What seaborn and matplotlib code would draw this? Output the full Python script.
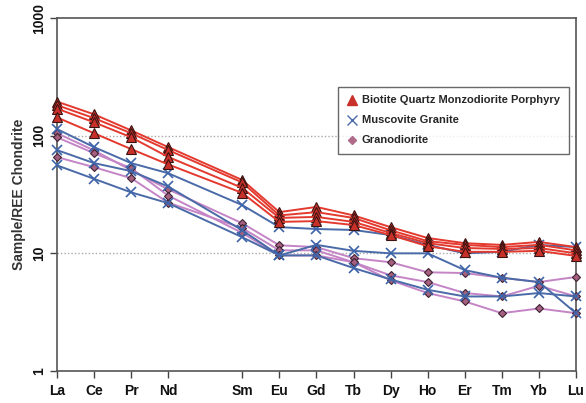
import matplotlib
matplotlib.use("Agg")
import matplotlib.pyplot as plt
from matplotlib.lines import Line2D
import seaborn as sns
import pandas as pd

# ---- data ----
ree_all = ["La", "Ce", "Pr", "Nd", "Pm", "Sm", "Eu", "Gd", "Tb", "Dy", "Ho", "Er", "Tm", "Yb", "Lu"]
elements = ["La", "Ce", "Pr", "Nd", "Sm", "Eu", "Gd", "Tb", "Dy", "Ho", "Er", "Tm", "Yb", "Lu"]

bqmp_1 = [195, 152, 111, 80, 42, 22.4, 24.8, 21.0, 16.7, 13.5, 12.2, 11.8, 12.5, 11.3]
bqmp_2 = [182, 141, 105, 75.5, 40, 21.0, 22.4, 20.0, 15.7, 12.7, 11.8, 11.3, 11.8, 10.6]
bqmp_3 = [170, 130, 97, 66, 36, 20.0, 20.4, 18.5, 14.9, 12.2, 11.1, 10.9, 11.1, 10.0]
bqmp_4 = [143, 105, 77, 57, 32.6, 18.5, 18.8, 17.4, 14.3, 11.5, 10.3, 10.3, 10.5, 9.5]

musc_1 = [114, 80, 58.5, 48, 25.7, 16.7, 16.1, 15.8, 14.3, 11.8, 10.0, 10.3, 11.8, 11.3]
musc_2 = [75.5, 58.5, 50, 37, 15.7, 9.6, 11.8, 10.5, 10.0, 10.0, 7.2, 6.2, 5.7, 3.1]
musc_3 = [56, 43, 33, 26.7, 13.7, 9.6, 9.6, 7.5, 6.0, 4.9, 4.3, 4.3, 4.6, 4.3]

gran_1 = [105, 75, 51, 35, 18.0, 11.7, 11.3, 9.1, 8.4, 6.9, 6.8, 6.2, 5.7, 6.3]
gran_2 = [65.8, 54, 43.6, 27, 16.4, 10.6, 10.6, 8.4, 6.5, 5.7, 4.6, 4.3, 5.3, 4.3]
gran_3 = [97, 71, 53, 31, 14.9, 9.6, 9.6, 8.4, 5.9, 4.6, 3.9, 3.1, 3.4, 3.1]

groups = {
    "Biotite Quartz Monzodiorite Porphyry": [bqmp_1, bqmp_2, bqmp_3, bqmp_4],
    "Muscovite Granite": [musc_1, musc_2, musc_3],
    "Granodiorite": [gran_1, gran_2, gran_3],
}

styles = {
    "Biotite Quartz Monzodiorite Porphyry": dict(color="#e3392e", marker="^", mfc="#c8302a", mec="#3a1412", ms=7.5, mew=0.8),
    "Muscovite Granite": dict(color="#4a6aa8", marker="x", mfc="#4a6aa8", mec="#3d63a8", ms=7, mew=1.2),
    "Granodiorite": dict(color="#c484c6", marker="D", mfc="#a4607e", mec="#3e2232", ms=4.5, mew=0.8),
}

rows = []
for grp, series in groups.items():
    for k, vals in enumerate(series):
        for el, v in zip(elements, vals):
            rows.append(dict(group=grp, sample=f"{grp}_{k}", element=el,
                             x=ree_all.index(el), value=v))
df = pd.DataFrame(rows)

# ---- plot ----
sns.set_style("white")
plt.rcParams["font.family"] = ["Liberation Sans", "DejaVu Sans"]

fig = plt.figure(figsize=(5.86, 4.03), dpi=100)
ax = fig.add_axes([0.097, 0.0794, 0.886, 0.8759])

for grp in ["Granodiorite", "Muscovite Granite", "Biotite Quartz Monzodiorite Porphyry"]:
    st = styles[grp]
    sub = df[df["group"] == grp]
    for s in sub["sample"].unique():
        d = sub[sub["sample"] == s]
        sns.lineplot(data=d, x="x", y="value", ax=ax, color=st["color"], lw=1.4,
                     marker=st["marker"], markersize=st["ms"], markerfacecolor=st["mfc"],
                     markeredgecolor=st["mec"], markeredgewidth=st["mew"],
                     sort=False, estimator=None, legend=False, clip_on=False, zorder=3)

ax.set_yscale("log")
ax.set_ylim(1, 1000)
ax.set_xlim(0, 14)
ax.set_yticks([1, 10, 100, 1000])
ax.set_yticklabels(["1", "10", "100", "1000"], rotation=90, va="center",
                   fontweight="bold", fontsize=10)
ax.minorticks_off()
ax.yaxis.set_minor_locator(matplotlib.ticker.NullLocator())
ax.set_xticks([ree_all.index(e) for e in elements])
ax.set_xticklabels(elements, fontweight="bold", fontsize=10)
ax.tick_params(axis="both", direction="out", length=5, width=1, color="#444444",
               bottom=True, left=True, labelcolor="#111111")
ax.tick_params(axis="x", pad=4)
ax.tick_params(axis="y", pad=3)

for v in [10, 100]:
    ax.axhline(v, color="#aaaaaa", lw=1, ls=(0, (1, 1.5)), zorder=1)

for sp in ax.spines.values():
    sp.set_color("#555555")
    sp.set_linewidth(1.2)

ax.set_xlabel("")
ax.set_ylabel("Sample/REE Chondrite", fontsize=10, fontweight="bold", color="#333333", labelpad=4)

handles = [
    Line2D([], [], ls="none", marker="^", ms=7, mfc="#c8302a", mec="#c8302a"),
    Line2D([], [], ls="none", marker="x", ms=7, mec="#4a6aa8", mew=1.0),
    Line2D([], [], ls="none", marker="D", ms=4, mfc="#b06a8a", mec="#b06a8a"),
]
leg = ax.legend(handles, list(groups.keys()), loc="upper right",
                bbox_to_anchor=(0.99, 0.812), frameon=True, fancybox=False,
                prop=dict(weight="bold", size=8), handlelength=0.8, handletextpad=0.5,
                borderpad=0.8, labelspacing=0.9, borderaxespad=0.2)
leg.get_frame().set_edgecolor("#444444")
leg.get_frame().set_linewidth(1.0)

fig.savefig("out.png", dpi=100)
